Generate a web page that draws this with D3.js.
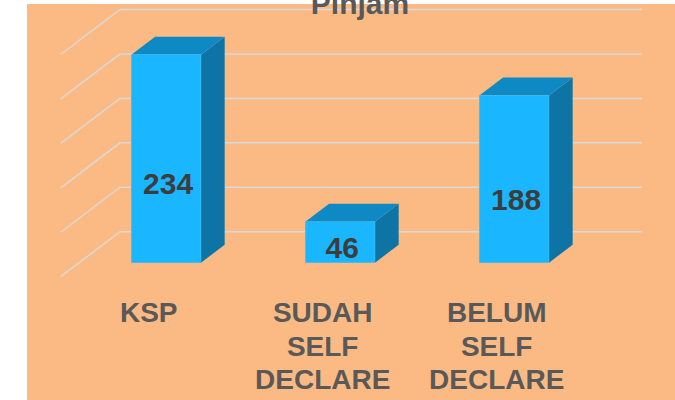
<!DOCTYPE html>
<html>
<head>
<meta charset="utf-8">
<script src="https://cdn.jsdelivr.net/npm/d3@7"></script>
<style>
  html, body { margin: 0; padding: 0; background: #fff; }
  svg { display: block; }
</style>
</head>
<body>
<div id="chart"></div>
<script>
var categories = [["KSP"], ["SUDAH", "SELF", "DECLARE"], ["BELUM", "SELF", "DECLARE"]];
var values = [234, 46, 188];
var ticks = [0, 50, 100, 150, 200, 250];
var title = "Pinjam";

var width = 675, height = 400;
var depthY = 45, depthX = 59.3;      // floor depth (front minus back)
var barFront = 31, barBack = 13;     // bar depth position, measured from back wall

var svg = d3.select("#chart").append("svg")
  .attr("width", width)
  .attr("height", height)
  .style("font-family", "'Liberation Sans', Arial, sans-serif");

svg.append("rect")
  .attr("x", 27).attr("y", 4)
  .attr("width", width - 27).attr("height", height - 4)
  .attr("fill", "#fbba84");

// scales on the back wall
var x = d3.scaleBand()
  .domain(d3.range(values.length))
  .range([120, 642])
  .paddingInner(0.6)
  .paddingOuter(0.3);

var y = d3.scaleLinear().domain([0, 250]).range([231.7, 9.5]);

function off(d) { return { dx: -d * depthX / depthY, dy: d }; }

// gridlines: side wall diagonal + back wall horizontal
var grid = svg.append("g");
ticks.forEach(function (t) {
  var f = off(depthY);
  grid.append("path")
    .attr("d", "M" + (x.range()[0] + f.dx) + "," + (y(t) + f.dy) +
               "L" + x.range()[0] + "," + y(t) +
               "L" + x.range()[1] + "," + y(t))
    .attr("fill", "none")
    .attr("stroke", "#d9d9d9")
    .attr("stroke-width", 1.5);
});

svg.append("text")
  .attr("x", 360).attr("y", 14)
  .attr("text-anchor", "middle")
  .attr("font-size", "30px")
  .attr("font-weight", "bold")
  .attr("fill", "#595959")
  .text(title);

var fo = off(barFront), bo = off(barBack);
var bw = x.bandwidth();

var bars = svg.selectAll("g.bar")
  .data(values)
  .enter().append("g")
  .attr("class", "bar");

// side face
bars.append("path")
  .attr("d", function (v, i) {
    var x1 = x(i) + bw + fo.dx, x2 = x(i) + bw + bo.dx;
    return "M" + x1 + "," + (y(0) + fo.dy) + "L" + x2 + "," + (y(0) + bo.dy) +
           "L" + x2 + "," + (y(v) + bo.dy) + "L" + x1 + "," + (y(v) + fo.dy) + "Z";
  })
  .attr("fill", "#0e74a6");

// top face
bars.append("path")
  .attr("d", function (v, i) {
    var xa = x(i) + fo.dx, xb = x(i) + bo.dx;
    return "M" + xa + "," + (y(v) + fo.dy) + "L" + xb + "," + (y(v) + bo.dy) +
           "L" + (xb + bw) + "," + (y(v) + bo.dy) + "L" + (xa + bw) + "," + (y(v) + fo.dy) + "Z";
  })
  .attr("fill", "#0f89c3");

// front face
bars.append("rect")
  .attr("x", function (v, i) { return x(i) + fo.dx; })
  .attr("y", function (v) { return y(v) + fo.dy; })
  .attr("width", bw)
  .attr("height", function (v) { return y(0) - y(v); })
  .attr("fill", "#1ab6ff")
  .attr("stroke", "#3ebef5")
  .attr("stroke-width", 0.6);

bars.append("text")
  .attr("x", function (v, i) { return x(i) + fo.dx + bw / 2 + 2; })
  .attr("y", function (v) { return y(v * 0.38) + fo.dy; })
  .attr("dy", "0.36em")
  .attr("text-anchor", "middle")
  .attr("font-size", "30px")
  .attr("font-weight", "bold")
  .attr("fill", "#3d3d3d")
  .text(function (v) { return v; });

// category labels centred under the floor's front edge
var fl = off(depthY);
var labels = svg.selectAll("text.cat")
  .data(categories)
  .enter().append("text")
  .attr("class", "cat")
  .attr("text-anchor", "middle")
  .attr("font-size", "28px")
  .attr("font-weight", "bold")
  .attr("fill", "#595959");

labels.selectAll("tspan")
  .data(function (d, i) { return d.map(function (s) { return { s: s, i: i }; }); })
  .enter().append("tspan")
  .attr("x", function (d) { return x(d.i) + bw / 2 + fl.dx + 1; })
  .attr("y", function (d, j) { return 322 + j * 33.5; })
  .text(function (d) { return d.s; });
</script>
</body>
</html>
